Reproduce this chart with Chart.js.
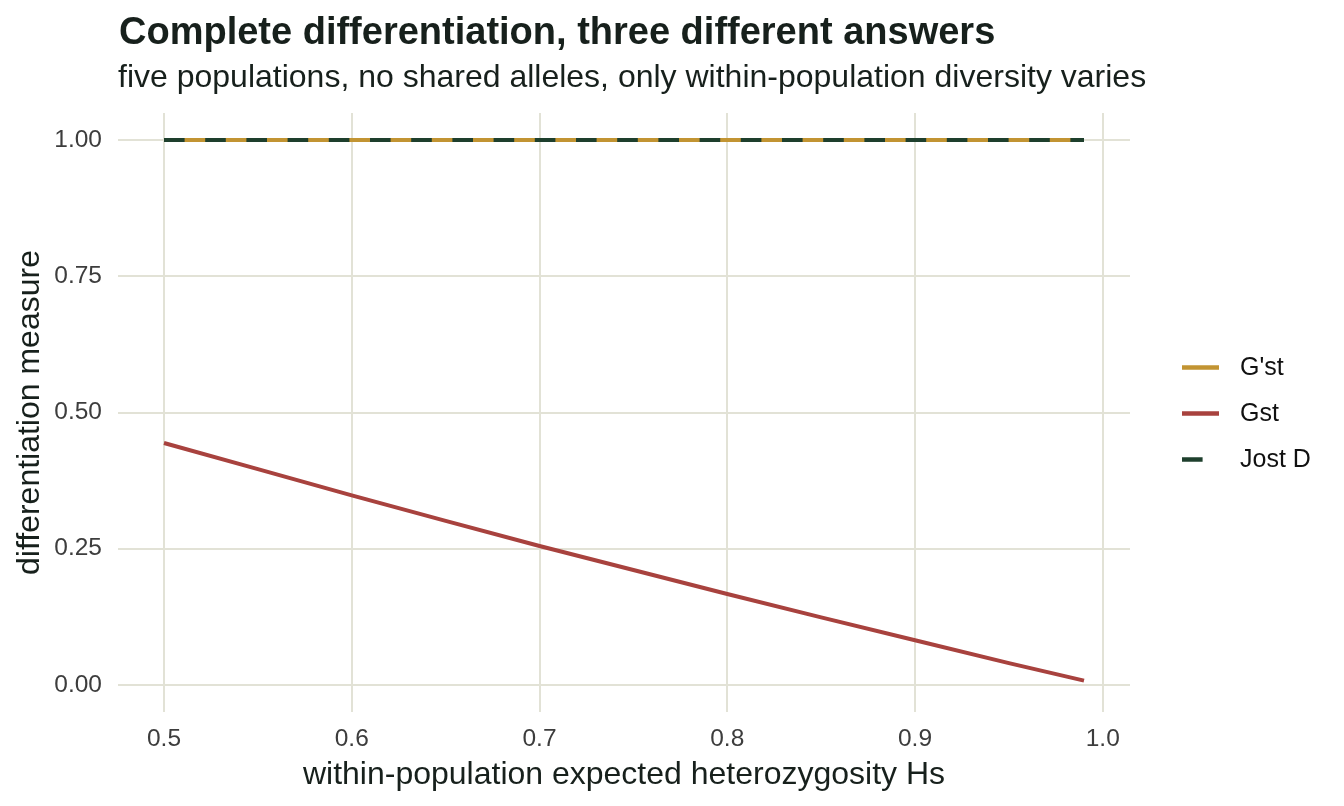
<!DOCTYPE html>
<html>
<head>
<meta charset="utf-8">
<script src="https://cdn.jsdelivr.net/npm/chart.js@4"></script>
<style>
  html, body { margin: 0; padding: 0; background: #ffffff; }
  #wrap { width: 1344px; height: 806px; }
</style>
</head>
<body>
<div id="wrap"><canvas id="chart" width="1344" height="806"></canvas></div>
<script>
// données
const hsValues = [0.50, 0.55, 0.60, 0.65, 0.70, 0.75, 0.80, 0.85, 0.90, 0.95, 0.99];
const gstValues = [0.444, 0.396, 0.348, 0.301, 0.255, 0.211, 0.167, 0.124, 0.082, 0.040, 0.008];
const gPrimeEnds = [0.50, 0.99];
const gPrimeValues = [1.0, 1.0];
const jostEnds = [0.50, 0.99];
const jostValues = [1.0, 1.0];
const xTicks = [0.5, 0.6, 0.7, 0.8, 0.9, 1.0];
const yTicks = [0.00, 0.25, 0.50, 0.75, 1.00];

const titleText = "Complete differentiation, three different answers";
const subtitleText = "five populations, no shared alleles, only within-population diversity varies";

const GOLD = "#C29432";
const RED = "#A8423E";
const GREEN = "#1E3F2D";
const GRID = "#E2E2D6";
const FONT = "'Liberation Sans', Arial, Helvetica, sans-serif";

function toPoints(xs, ys) {
    return xs.map((x, i) => ({ x, y: ys[i] }));
}

// titre + sous-titre alignés sur le panneau
const headerPlugin = {
    id: "header",
    afterDraw(chart) {
        const ctx = chart.ctx;
        const left = chart.chartArea.left;
        ctx.save();
        ctx.fillStyle = "#17201c";
        ctx.textBaseline = "alphabetic";
        ctx.textAlign = "left";
        ctx.font = "bold 38px " + FONT;
        ctx.fillText(titleText, left + 1, 44);
        ctx.font = "32px " + FONT;
        ctx.fillText(subtitleText, left, 87);
        ctx.restore();
    }
};

// légende à droite, façon ggplot
const legendPlugin = {
    id: "sideLegend",
    afterDraw(chart) {
        const ctx = chart.ctx;
        const rows = [367.5, 413.5, 459.5];
        ctx.save();
        chart.data.datasets.forEach((ds, i) => {
            const y = rows[i];
            ctx.strokeStyle = ds.borderColor;
            ctx.lineWidth = 4.5;
            ctx.lineCap = "butt";
            ctx.setLineDash(ds.borderDash || []);
            ctx.beginPath();
            ctx.moveTo(1182, y);
            ctx.lineTo(1219, y);
            ctx.stroke();
            ctx.setLineDash([]);
            ctx.fillStyle = "#111111";
            ctx.font = "25px " + FONT;
            ctx.textBaseline = "middle";
            ctx.textAlign = "left";
            ctx.fillText(ds.label, 1240, y + 1);
        });
        ctx.restore();
    }
};

const ctx = document.getElementById("chart").getContext("2d");

new Chart(ctx, {
    type: "line",
    data: {
        datasets: [
            {
                label: "G'st",
                data: toPoints(gPrimeEnds, gPrimeValues),
                borderColor: GOLD,
                borderWidth: 4,
                pointRadius: 0,
                order: 3
            },
            {
                label: "Gst",
                data: toPoints(hsValues, gstValues),
                borderColor: RED,
                borderWidth: 4,
                pointRadius: 0,
                order: 2
            },
            {
                label: "Jost D",
                data: toPoints(jostEnds, jostValues),
                borderColor: GREEN,
                borderWidth: 4,
                borderDash: [20.6, 20.6],
                borderCapStyle: "butt",
                pointRadius: 0,
                order: 1
            }
        ]
    },
    options: {
        responsive: false,
        animation: false,
        layout: {
            padding: { top: 113, right: 214, bottom: 0, left: 0 }
        },
        scales: {
            x: {
                type: "linear",
                min: 0.4755,
                max: 1.0145,
                afterBuildTicks: s => { s.ticks = xTicks.map(v => ({ value: v })); },
                afterFit: s => { s.height = 94; },
                border: { display: false },
                grid: { color: GRID, lineWidth: 2, drawTicks: false },
                ticks: {
                    padding: 13,
                    color: "#3d3d3d",
                    font: { family: FONT, size: 24.5 },
                    callback: v => Number(v).toFixed(1)
                },
                title: {
                    display: true,
                    text: "within-population expected heterozygosity Hs",
                    color: "#17201c",
                    font: { family: FONT, size: 32, lineHeight: 1.2 },
                    padding: { top: 0, bottom: 12 }
                }
            },
            y: {
                type: "linear",
                min: -0.0496,
                max: 1.0496,
                afterBuildTicks: s => { s.ticks = yTicks.map(v => ({ value: v })); },
                afterFit: s => { s.width = 118; },
                border: { display: false },
                grid: { color: GRID, lineWidth: 2, drawTicks: false },
                ticks: {
                    padding: 16,
                    color: "#3d3d3d",
                    font: { family: FONT, size: 24.5 },
                    callback: v => Number(v).toFixed(2)
                },
                title: {
                    display: true,
                    text: "differentiation measure",
                    color: "#17201c",
                    font: { family: FONT, size: 32, lineHeight: 1.2 },
                    padding: { top: 11, bottom: 0 }
                }
            }
        },
        plugins: {
            legend: { display: false },
            tooltip: { enabled: false }
        }
    },
    plugins: [headerPlugin, legendPlugin]
});
</script>
</body>
</html>
